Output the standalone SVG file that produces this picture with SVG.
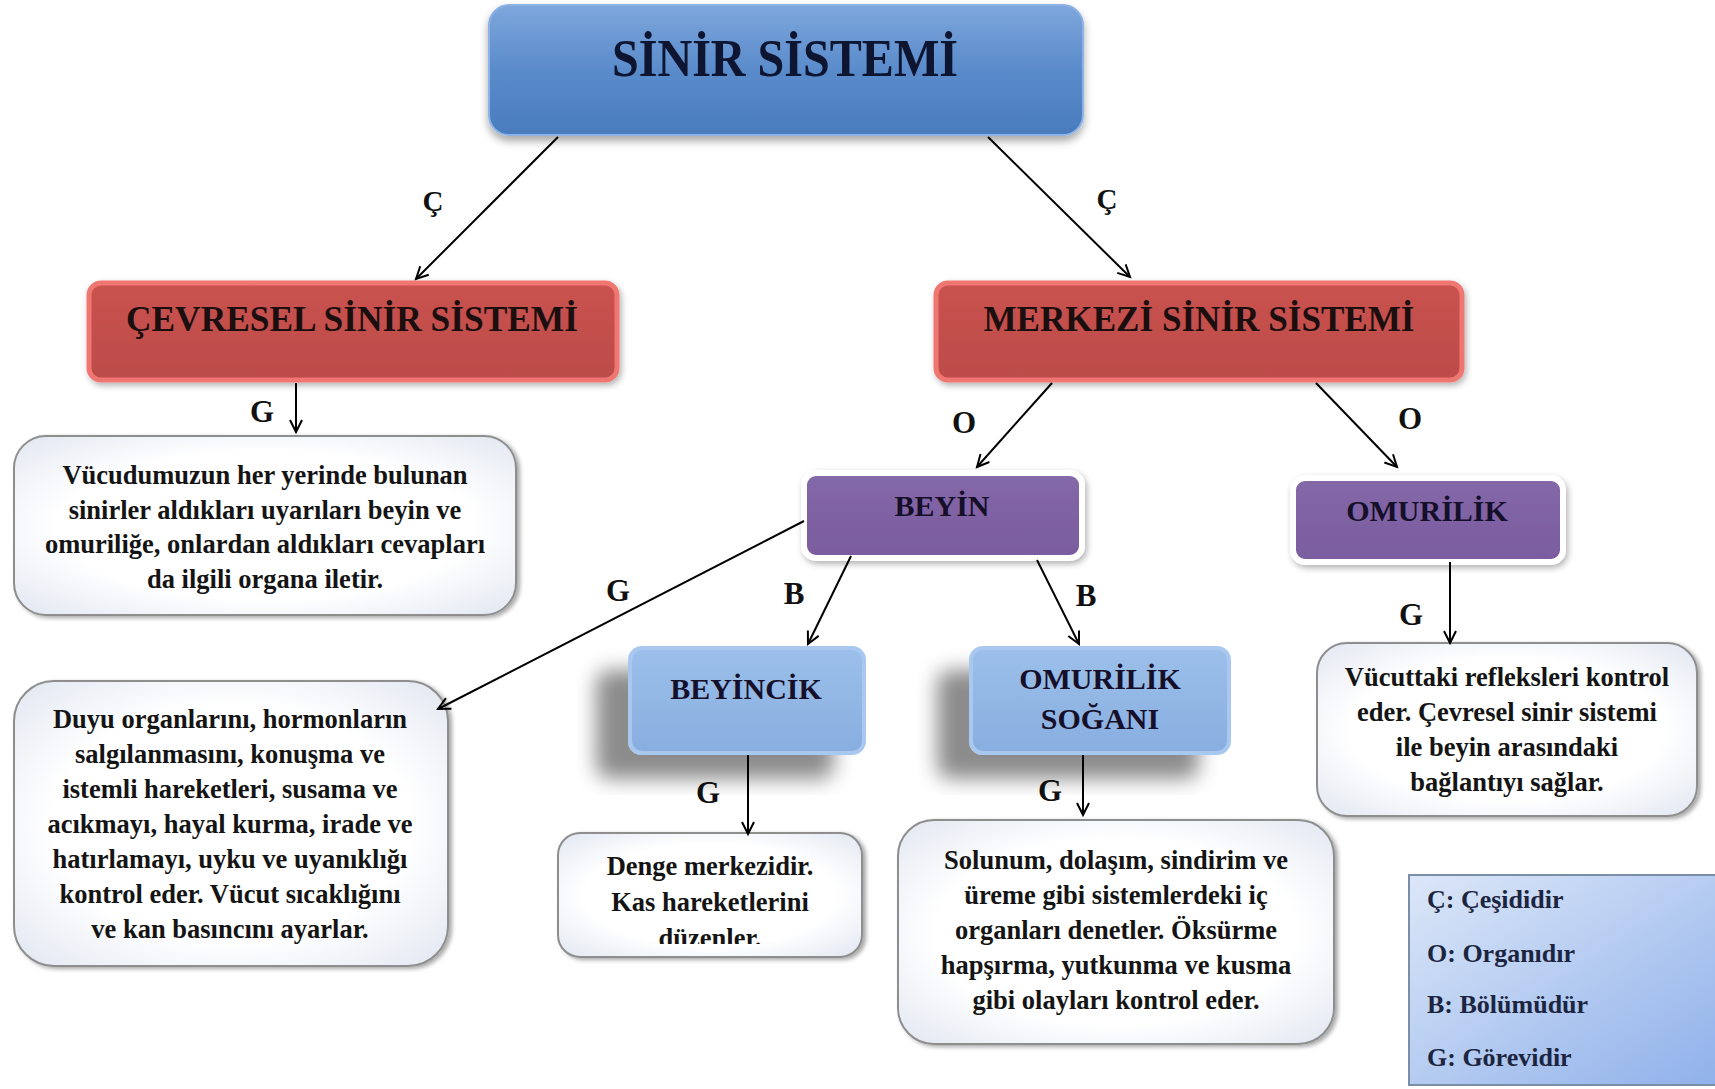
<svg xmlns="http://www.w3.org/2000/svg" width="1715" height="1089" viewBox="0 0 1715 1089">
<defs>
  <linearGradient id="gBlue" x1="0" y1="0" x2="0" y2="1">
    <stop offset="0" stop-color="#7EA7DC"/>
    <stop offset="0.5" stop-color="#5A8BCB"/>
    <stop offset="1" stop-color="#4A7CBD"/>
  </linearGradient>
  <linearGradient id="gRed" x1="0" y1="0" x2="0" y2="1">
    <stop offset="0" stop-color="#C9524F"/>
    <stop offset="1" stop-color="#BC4C49"/>
  </linearGradient>
  <linearGradient id="gPurple" x1="0" y1="0" x2="0" y2="1">
    <stop offset="0" stop-color="#8468A8"/>
    <stop offset="1" stop-color="#7A5C9E"/>
  </linearGradient>
  <linearGradient id="gLight" x1="0" y1="0" x2="0" y2="1">
    <stop offset="0" stop-color="#9CC0EA"/>
    <stop offset="1" stop-color="#88AEE0"/>
  </linearGradient>
  <radialGradient id="gDesc" cx="0.5" cy="0.5" r="0.75">
    <stop offset="0.55" stop-color="#FFFFFF"/>
    <stop offset="1" stop-color="#DCE2EE"/>
  </radialGradient>
  <linearGradient id="gLegend" x1="0" y1="0" x2="1" y2="1">
    <stop offset="0" stop-color="#DCE7F8"/>
    <stop offset="1" stop-color="#8EB0EA"/>
  </linearGradient>
  <filter id="shTop" x="-10%" y="-10%" width="120%" height="130%">
    <feDropShadow dx="0" dy="5" stdDeviation="4" flood-color="#000" flood-opacity="0.35"/>
  </filter>
  <filter id="shSoft" x="-10%" y="-10%" width="120%" height="130%">
    <feDropShadow dx="2" dy="3" stdDeviation="3" flood-color="#000" flood-opacity="0.3"/>
  </filter>
  <filter id="shBig" x="-40%" y="-30%" width="160%" height="170%">
    <feDropShadow dx="-32" dy="24" stdDeviation="10" flood-color="#000" flood-opacity="0.45"/>
  </filter>
  <filter id="shDesc" x="-10%" y="-10%" width="120%" height="120%">
    <feDropShadow dx="3" dy="2" stdDeviation="2" flood-color="#000" flood-opacity="0.35"/>
  </filter>
  <clipPath id="clipDenge"><rect x="558" y="833" width="304" height="111"/></clipPath>
  <marker id="arr" markerWidth="16" markerHeight="16" refX="13" refY="7" orient="auto" markerUnits="userSpaceOnUse">
    <path d="M1,1 L13,7 L1,13" fill="none" stroke="#000" stroke-width="2"/>
  </marker>
  <style>
    text { font-family: "Liberation Serif", "Times New Roman", serif; font-weight: bold; }
    .title { font-size: 52px; fill: #0E1530; text-anchor: middle; }
    .h2 { font-size: 35px; fill: #1A0E0E; text-anchor: middle; }
    .h3 { font-size: 30px; fill: #150F2A; text-anchor: middle; }
    .desc { font-size: 26.5px; fill: #141414; text-anchor: middle; }
    .lbl { font-size: 31px; fill: #111; text-anchor: middle; }
    .lblc { font-size: 29px; }
    .leg { font-size: 26px; fill: #1C2540; }
    .conn line { stroke: #000; stroke-width: 2; marker-end: url(#arr); }
    .descbox { fill: url(#gDesc); stroke: #8E8E8E; stroke-width: 2; filter: url(#shDesc); }
  </style>
</defs>
<rect width="1715" height="1089" fill="#FFFFFF"/>

<g id="sinir-sistemi">
  <rect x="489" y="5" width="594" height="130" rx="20" fill="url(#gBlue)" stroke="#8DB3E6" stroke-width="2" filter="url(#shTop)"/>
  <text class="title" x="785" y="76" textLength="346" lengthAdjust="spacingAndGlyphs">SİNİR SİSTEMİ</text>
</g>

<g id="cevresel">
  <rect x="89" y="283" width="528" height="97" rx="12" fill="url(#gRed)" stroke="#F07672" stroke-width="5" filter="url(#shSoft)"/>
  <text class="h2" x="352" y="331" textLength="452" lengthAdjust="spacingAndGlyphs">ÇEVRESEL SİNİR SİSTEMİ</text>
</g>

<g id="merkezi">
  <rect x="936" y="283" width="526" height="97" rx="12" fill="url(#gRed)" stroke="#F07672" stroke-width="5" filter="url(#shSoft)"/>
  <text class="h2" x="1199" y="331" textLength="431" lengthAdjust="spacingAndGlyphs">MERKEZİ SİNİR SİSTEMİ</text>
</g>

<g id="cevresel-gorev">
  <rect class="descbox" x="14" y="436" width="502" height="179" rx="32"/>
  <text class="desc" x="265" y="484">Vücudumuzun her yerinde bulunan</text>
  <text class="desc" x="265" y="518.5">sinirler aldıkları uyarıları beyin ve</text>
  <text class="desc" x="265" y="553">omuriliğe, onlardan aldıkları cevapları</text>
  <text class="desc" x="265" y="587.5">da ilgili organa iletir.</text>
</g>

<g id="beyin">
  <rect x="804" y="473" width="278" height="85" rx="12" fill="url(#gPurple)" stroke="#FFFFFF" stroke-width="6" filter="url(#shSoft)"/>
  <text class="h3" x="942" y="516">BEYİN</text>
</g>

<g id="omurilik">
  <rect x="1293" y="478" width="270" height="84" rx="12" fill="url(#gPurple)" stroke="#FFFFFF" stroke-width="6" filter="url(#shSoft)"/>
  <text class="h3" x="1427" y="521">OMURİLİK</text>
</g>

<g id="beyincik">
  <rect x="630" y="648" width="234" height="105" rx="12" fill="url(#gLight)" stroke="#A9C8EF" stroke-width="4" filter="url(#shBig)"/>
  <text class="h3" x="746" y="699">BEYİNCİK</text>
</g>

<g id="omurilik-sogani">
  <rect x="971" y="648" width="258" height="105" rx="12" fill="url(#gLight)" stroke="#A9C8EF" stroke-width="4" filter="url(#shBig)"/>
  <text class="h3" x="1100" y="689">OMURİLİK</text>
  <text class="h3" x="1100" y="729">SOĞANI</text>
</g>

<g id="beyin-gorev">
  <rect class="descbox" x="14" y="681" width="434" height="285" rx="40"/>
  <text class="desc" x="230" y="727.5">Duyu organlarını, hormonların</text>
  <text class="desc" x="230" y="762.5">salgılanmasını, konuşma ve</text>
  <text class="desc" x="230" y="797.5">istemli hareketleri, susama  ve</text>
  <text class="desc" x="230" y="832.5">acıkmayı, hayal kurma, irade ve</text>
  <text class="desc" x="230" y="867.5">hatırlamayı, uyku ve uyanıklığı</text>
  <text class="desc" x="230" y="902.5">kontrol eder. Vücut sıcaklığını</text>
  <text class="desc" x="230" y="937.5">ve kan basıncını ayarlar.</text>
</g>

<g id="beyincik-gorev">
  <rect class="descbox" x="558" y="833" width="304" height="124" rx="22"/>
  <g clip-path="url(#clipDenge)">
    <text class="desc" x="710" y="875">Denge merkezidir.</text>
    <text class="desc" x="710" y="911">Kas hareketlerini</text>
    <text class="desc" x="710" y="947">düzenler.</text>
  </g>
</g>

<g id="sogan-gorev">
  <rect class="descbox" x="898" y="820" width="436" height="224" rx="36"/>
  <text class="desc" x="1116" y="869">Solunum, dolaşım, sindirim ve</text>
  <text class="desc" x="1116" y="904">üreme gibi sistemlerdeki iç</text>
  <text class="desc" x="1116" y="939">organları denetler. Öksürme</text>
  <text class="desc" x="1116" y="974">hapşırma, yutkunma ve kusma</text>
  <text class="desc" x="1116" y="1009">gibi olayları kontrol eder.</text>
</g>

<g id="omurilik-gorev">
  <rect class="descbox" x="1317" y="643" width="380" height="173" rx="30"/>
  <text class="desc" x="1507" y="685.5">Vücuttaki refleksleri kontrol</text>
  <text class="desc" x="1507" y="720.5">eder. Çevresel sinir sistemi</text>
  <text class="desc" x="1507" y="755.5">ile beyin arasındaki</text>
  <text class="desc" x="1507" y="790.5">bağlantıyı sağlar.</text>
</g>

<g id="legend">
  <rect x="1409" y="875" width="320" height="210" fill="url(#gLegend)" stroke="#7C8DA8" stroke-width="2"/>
  <text class="leg" x="1427" y="908">Ç: Çeşididir</text>
  <text class="leg" x="1427" y="962">O: Organıdır</text>
  <text class="leg" x="1427" y="1013">B: Bölümüdür</text>
  <text class="leg" x="1427" y="1066">G: Görevidir</text>
</g>

<g id="connectors" class="conn">
  <line x1="558" y1="137" x2="416" y2="279"/>
  <line x1="988" y1="137" x2="1130" y2="277"/>
  <line x1="296" y1="383" x2="296" y2="432"/>
  <line x1="1052" y1="383" x2="977" y2="467"/>
  <line x1="1316" y1="383" x2="1397" y2="467"/>
  <line x1="804" y1="521" x2="438" y2="709"/>
  <line x1="851" y1="556" x2="808" y2="644"/>
  <line x1="1037" y1="560" x2="1079" y2="644"/>
  <line x1="1450" y1="562" x2="1450" y2="643"/>
  <line x1="748" y1="755" x2="748" y2="834"/>
  <line x1="1083" y1="755" x2="1083" y2="815"/>
  <text class="lbl lblc" x="433" y="211">Ç</text>
  <text class="lbl lblc" x="1107" y="209">Ç</text>
  <text class="lbl" x="262" y="422">G</text>
  <text class="lbl" x="964" y="433">O</text>
  <text class="lbl" x="1410" y="429">O</text>
  <text class="lbl" x="618" y="601">G</text>
  <text class="lbl" x="794" y="604">B</text>
  <text class="lbl" x="1086" y="606">B</text>
  <text class="lbl" x="1411" y="625">G</text>
  <text class="lbl" x="708" y="803">G</text>
  <text class="lbl" x="1050" y="801">G</text>
</g>
</svg>
